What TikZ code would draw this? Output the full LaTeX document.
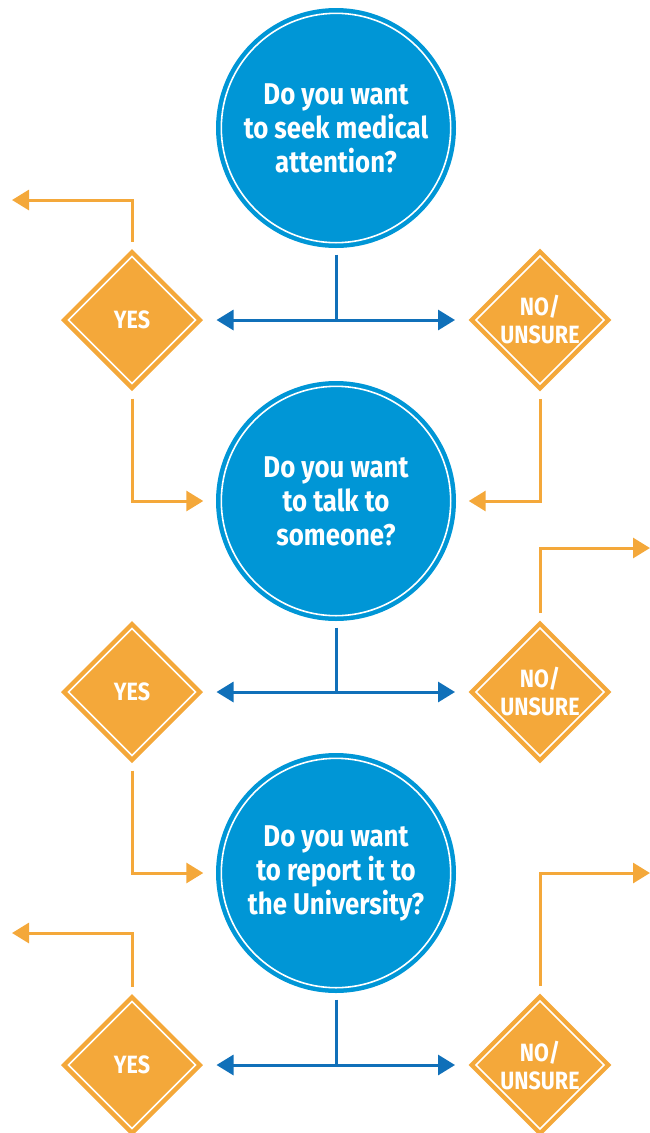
\documentclass[tikz,border=0pt]{standalone}
\usepackage{fontspec}
\setmainfont{Fira Sans}[FakeStretch=0.86]
\usetikzlibrary{shapes.geometric,arrows.meta}

\definecolor{qblue}{RGB}{0,150,214}
\definecolor{lineblue}{RGB}{16,112,185}
\definecolor{ansorange}{RGB}{244,168,58}

\tikzset{
  question/.style={circle,fill=qblue,draw=qblue,double=white,double distance=1.6pt,
    line width=4.5pt,minimum size=229.4pt,inner sep=0pt,outer sep=0pt,
    text=white,align=center,font=\bfseries\fontsize{30}{34}\selectfont},
  answer/.style={diamond,fill=ansorange,draw=ansorange,double=white,double distance=1.6pt,
    line width=4.5pt,minimum width=127pt,minimum height=127pt,inner sep=0pt,outer sep=0pt,
    text=white,align=center,font=\bfseries\fontsize{25}{28}\selectfont},
  blueline/.style={draw=lineblue,line width=3pt},
  bluearrow/.style={blueline,-{Triangle[length=17pt,width=20pt]},shorten >=21pt},
  orangearrow/.style={draw=ansorange,line width=3pt,-{Triangle[length=17pt,width=20pt]}}
}

\begin{document}
\begin{tikzpicture}[x=1pt,y=-1pt]
      \useasboundingbox (0,0) rectangle (650,1133);
      % questions
      \node[question] (q1) at (336,128) {Do you want\\to seek medical\\attention?};
      \node[question] (q2) at (336,501) {Do you want\\to talk to\\someone?};
      \node[question] (q3) at (336,873) {Do you want\\to report it to\\the University?};
      % answers
      \node[answer] (yes1) at (132,320) {YES};
      \node[answer] (no1) at (540,320) {NO/\\UNSURE};
      \node[answer] (yes2) at (132,692) {YES};
      \node[answer] (no2) at (540,692) {NO/\\UNSURE};
      \node[answer] (yes3) at (132,1065) {YES};
      \node[answer] (no3) at (540,1065) {NO/\\UNSURE};
      % junctions and free ends
      \coordinate (j1) at (q1.south |- yes1.east);
      \coordinate (j2) at (q2.south |- yes2.east);
      \coordinate (j3) at (q3.south |- yes3.east);
      \coordinate (out1) at (12,200);
      \coordinate (out2) at (650,548);
      \coordinate (out3) at (12,933);
      \coordinate (out4) at (650,873);
      % blue splits
      \draw[blueline,shorten <=12pt] (q1.south) -- (j1);
      \draw[bluearrow] (j1) -- (yes1.east);
      \draw[bluearrow] (j1) -- (no1.west);
      \draw[blueline,shorten <=12pt] (q2.south) -- (j2);
      \draw[bluearrow] (j2) -- (yes2.east);
      \draw[bluearrow] (j2) -- (no2.west);
      \draw[blueline,shorten <=12pt] (q3.south) -- (j3);
      \draw[bluearrow] (j3) -- (yes3.east);
      \draw[bluearrow] (j3) -- (no3.west);
      % orange paths
      \draw[orangearrow,shorten <=15pt] (yes1.north) |- (out1);
      \draw[orangearrow,shorten <=15pt,shorten >=18pt] (yes1.south) |- (q2.west);
      \draw[orangearrow,shorten <=15pt,shorten >=18pt] (no1.south) |- (q2.east);
      \draw[orangearrow,shorten <=15pt] (no2.north) |- (out2);
      \draw[orangearrow,shorten <=15pt,shorten >=18pt] (yes2.south) |- (q3.west);
      \draw[orangearrow,shorten <=15pt] (yes3.north) |- (out3);
      \draw[orangearrow,shorten <=15pt] (no3.north) |- (out4);
\end{tikzpicture}
\end{document}
